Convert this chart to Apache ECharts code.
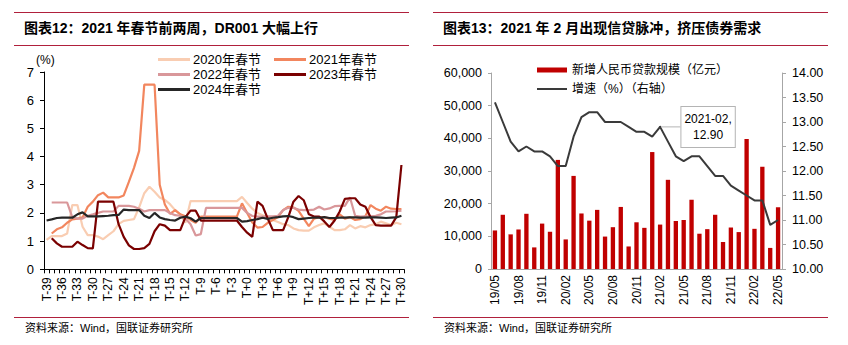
<!DOCTYPE html>
<html>
<head>
<meta charset="utf-8">
<script src="https://cdn.jsdelivr.net/npm/echarts@6/dist/echarts.min.js"></script>
<style>
html,body{margin:0;padding:0;background:#fff;}
#c{width:848px;height:345px;}
</style>
</head>
<body>
<div id="c"></div>
<script>
// ---------- Left panel: DR001 around Spring Festival ----------
const tLabels = ['T-39','T-38','T-37','T-36','T-35','T-34','T-33','T-32','T-31','T-30',
'T-29','T-28','T-27','T-26','T-25','T-24','T-23','T-22','T-21','T-20',
'T-19','T-18','T-17','T-16','T-15','T-14','T-13','T-12','T-11','T-10',
'T-9','T-8','T-7','T-6','T-5','T-4','T-3','T-2','T-1','T+0',
'T+1','T+2','T+3','T+4','T+5','T+6','T+7','T+8','T+9','T+10',
'T+11','T+12','T+13','T+14','T+15','T+16','T+17','T+18','T+19','T+20',
'T+21','T+22','T+23','T+24','T+25','T+26','T+27','T+28','T+29','T+30'];

const y2020 = [1.04,1.18,1.18,1.18,1.27,2.28,2.28,1.51,1.21,1.21,
1.16,1.07,1.21,1.35,1.6,1.72,1.75,1.78,2.2,2.7,
2.93,2.75,2.55,2.46,2.31,2.1,1.95,1.65,2.42,2.42,
2.42,2.42,2.42,2.42,2.42,2.42,2.42,2.42,2.57,2.35,
2.15,2.0,1.92,1.84,1.75,1.68,1.6,1.57,1.45,1.39,
1.37,1.37,1.49,1.57,1.63,1.51,1.39,1.39,1.42,1.57,
1.45,1.53,1.49,1.57,1.6,1.69,1.63,1.57,1.65,1.6];

const y2021 = [null,1.27,1.42,1.49,1.65,1.77,1.8,1.84,2.22,2.4,
2.63,2.72,2.55,2.55,2.55,2.62,3.1,3.6,4.2,6.55,
6.55,6.55,3.0,2.3,1.97,2.1,1.95,1.88,1.75,1.65,
1.87,1.87,1.87,1.87,1.87,1.87,1.87,1.87,2.34,2.0,
1.66,1.48,1.5,1.65,1.75,1.85,2.1,2.22,2.2,2.07,
1.8,1.53,1.8,1.85,1.85,1.8,1.75,1.95,1.8,1.85,
1.75,1.78,1.88,2.28,2.15,2.08,2.22,2.15,2.14,2.14];

const y2022 = [null,2.37,2.37,2.37,2.37,1.85,1.8,1.8,1.9,1.95,
2.0,2.05,2.05,2.05,2.25,2.25,2.25,2.22,2.15,2.05,
2.1,2.1,2.1,2.1,2.0,1.92,1.9,1.8,1.6,1.2,
1.25,2.18,2.18,2.18,2.18,2.18,2.18,2.18,2.18,2.0,
1.89,1.87,1.87,1.88,1.88,1.9,2.1,2.18,2.18,2.12,
2.1,2.1,2.12,2.22,2.12,2.16,2.24,2.25,2.25,2.55,
1.9,1.87,1.88,1.88,1.9,1.95,2.05,2.05,2.06,2.08];

const y2023 = [null,1.1,0.92,0.8,0.8,0.8,0.98,0.86,0.75,0.74,
2.4,2.4,2.4,2.4,1.6,1.15,0.85,0.72,0.72,0.75,
0.9,1.35,1.6,1.55,1.39,1.39,1.39,1.85,2.08,2.08,
1.73,1.73,1.73,1.73,1.73,1.73,1.73,1.73,1.5,1.3,
1.15,2.4,2.25,1.8,1.39,1.39,1.39,1.85,2.4,2.6,
2.45,1.95,1.87,1.87,1.7,1.5,1.73,2.05,2.5,2.52,
2.52,2.3,2.22,1.85,1.57,1.55,1.55,1.55,1.85,3.7];

const y2024 = [1.73,1.77,1.82,1.83,1.83,1.83,1.95,2.02,1.88,1.88,
1.88,1.89,1.9,1.92,1.93,2.12,2.1,2.1,2.1,1.9,
1.82,2.0,1.84,1.78,1.75,1.73,1.83,1.87,1.81,1.69,
1.82,1.82,1.82,1.82,1.82,1.82,1.82,1.82,1.69,1.71,
1.75,1.78,1.83,1.79,1.83,1.85,1.88,1.89,1.85,1.78,
1.8,1.82,1.83,1.83,1.85,1.82,1.82,1.83,1.83,1.84,
1.84,1.83,1.83,1.84,1.84,1.83,1.82,1.83,1.84,1.9];

const leftSeriesNames = ['2020年春节','2021年春节','2022年春节','2023年春节','2024年春节'];
const leftSeriesColors = ['#F9CDB2','#F2865E','#D9979A','#7A0000','#262626'];
const leftYTicks = [0,1,2,3,4,5,6,7];

// ---------- Right panel: new RMB loans & growth ----------
const months = ['19/05','19/06','19/07','19/08','19/09','19/10','19/11','19/12',
'20/01','20/02','20/03','20/04','20/05','20/06','20/07','20/08','20/09','20/10','20/11','20/12',
'21/01','21/02','21/03','21/04','21/05','21/06','21/07','21/08','21/09','21/10','21/11','21/12',
'22/01','22/02','22/03','22/04','22/05'];
const newLoans = [11800,16600,10600,12100,16900,6613,13900,11400,
33400,9057,28500,17000,14800,18100,9927,12800,19000,6898,14300,12600,
35800,13600,27300,14700,15000,21200,10800,12200,16600,8262,12700,11300,
39800,12300,31300,6454,18900];
const loanGrowth = [13.4,13.0,12.6,12.4,12.5,12.4,12.4,12.3,
12.1,12.1,12.7,13.1,13.2,13.2,13.0,13.0,13.0,12.9,12.8,12.8,
12.7,12.9,12.6,12.3,12.2,12.3,12.3,12.1,11.9,11.9,11.7,11.6,
11.5,11.4,11.4,10.9,11.0];
const annotatedMonth = '21/02';

const FONT = "'Liberation Sans','Noto Sans CJK SC',sans-serif";
const RED_RULE = '#B0203C';
const LINE_ICON = 'path://M0,0 L30,0 L30,2 L0,2 Z';
const LINE_COLOR = '#3a3a3a';

const annIdx = months.indexOf(annotatedMonth);
const growthData = loanGrowth.map((v, i) => i === annIdx ? {
  value: v,
  symbol: 'circle',
  symbolSize: 2,
  label: {
    show: true,
    position: 'right',
    distance: 5,
    formatter: '20' + months[i].replace('/', '-') + ',\n' + v.toFixed(2),
    backgroundColor: '#fff',
    borderColor: '#b4b4b4',
    borderWidth: 1,
    padding: [4, 3],
    fontSize: 12,
    lineHeight: 16,
    align: 'center',
    color: '#000',
    fontFamily: FONT
  },
  labelLine: { show: true, lineStyle: { color: '#b4b4b4', width: 1 } }
} : { value: v, symbol: 'none' });

const leftSeries = leftSeriesNames.map((n, k) => ({
  name: n,
  type: 'line',
  xAxisIndex: 0,
  yAxisIndex: 0,
  data: [y2020, y2021, y2022, y2023, y2024][k],
  symbol: 'none',
  connectNulls: false,
  lineStyle: { width: 2.2, color: leftSeriesColors[k] },
  itemStyle: { color: leftSeriesColors[k] },
  z: 2 + k
}));

const chart = echarts.init(document.getElementById('c'), null, { renderer: 'svg' });

const option = {
  animation: false,
  backgroundColor: '#fff',
  textStyle: { fontFamily: FONT, color: '#000' },
  title: [
    { text: '图表12：2021 年春节前两周，DR001 大幅上行', left: 24, top: 21, padding: 0,
      textStyle: { fontSize: 14, fontWeight: 'bold', color: '#000', fontFamily: FONT } },
    { text: '图表13：2021 年 2 月出现信贷脉冲，挤压债券需求', left: 443, top: 21, padding: 0,
      textStyle: { fontSize: 14, fontWeight: 'bold', color: '#000', fontFamily: FONT } },
    { text: '资料来源：Wind，国联证券研究所', left: 25, top: 322, padding: 0,
      textStyle: { fontSize: 11, fontWeight: 'normal', color: '#000', fontFamily: FONT } },
    { text: '资料来源：Wind，国联证券研究所', left: 444, top: 322, padding: 0,
      textStyle: { fontSize: 11, fontWeight: 'normal', color: '#000', fontFamily: FONT } }
  ],
  graphic: [
    { type: 'line', shape: { x1: 14, y1: 12.5, x2: 409, y2: 12.5 }, style: { stroke: RED_RULE, lineWidth: 1 } },
    { type: 'line', shape: { x1: 14, y1: 45.5, x2: 409, y2: 45.5 }, style: { stroke: RED_RULE, lineWidth: 1 } },
    { type: 'line', shape: { x1: 14, y1: 317.5, x2: 409, y2: 317.5 }, style: { stroke: RED_RULE, lineWidth: 1 } },
    { type: 'line', shape: { x1: 433, y1: 12.5, x2: 828, y2: 12.5 }, style: { stroke: RED_RULE, lineWidth: 1 } },
    { type: 'line', shape: { x1: 433, y1: 45.5, x2: 828, y2: 45.5 }, style: { stroke: RED_RULE, lineWidth: 1 } },
    { type: 'line', shape: { x1: 433, y1: 317.5, x2: 828, y2: 317.5 }, style: { stroke: RED_RULE, lineWidth: 1 } }
  ],
  legend: [
    { orient: 'vertical', left: 158, top: 52, padding: 0, itemGap: 0, itemWidth: 32, itemHeight: 3,
      icon: 'rect',
      data: [leftSeriesNames[0], leftSeriesNames[2], leftSeriesNames[4]],
      textStyle: { fontSize: 13, lineHeight: 15, color: '#000', fontFamily: FONT, padding: [0,0,0,-2] } },
    { orient: 'vertical', left: 274, top: 52, padding: 0, itemGap: 0, itemWidth: 32, itemHeight: 3,
      icon: 'rect',
      data: [leftSeriesNames[1], leftSeriesNames[3]],
      textStyle: { fontSize: 13, lineHeight: 15, color: '#000', fontFamily: FONT, padding: [0,0,0,-2] } },
    { orient: 'vertical', left: 537, top: 63, padding: 0, itemGap: 5, itemWidth: 30, itemHeight: 5,
      data: [{ name: '新增人民币贷款规模（亿元）', icon: 'rect' }, { name: '增速（%）（右轴）', icon: LINE_ICON }],
      textStyle: { fontSize: 12, lineHeight: 14, color: '#000', fontFamily: FONT } }
  ],
  grid: [
    { left: 44, top: 72, width: 360, height: 197.3 },
    { left: 491, top: 73, width: 291, height: 196 }
  ],
  xAxis: [
    { type: 'category', gridIndex: 0, data: tLabels, boundaryGap: true,
      axisLine: { lineStyle: { color: '#000', width: 1 } },
      axisTick: { show: true, interval: 0, length: 4, lineStyle: { color: '#000' } },
      axisLabel: { interval: 2, rotate: 90, fontSize: 12, margin: 8, color: '#000', fontFamily: FONT },
      splitLine: { show: false } },
    { type: 'category', gridIndex: 1, data: months, boundaryGap: true,
      axisLine: { lineStyle: { color: '#a6a6a6', width: 1 } },
      axisTick: { show: false },
      axisLabel: { interval: 2, rotate: 90, fontSize: 12, margin: 6, color: '#000', fontFamily: FONT },
      splitLine: { show: false } }
  ],
  yAxis: [
    { type: 'value', gridIndex: 0, min: leftYTicks[0], max: leftYTicks[leftYTicks.length - 1], interval: 1,
      name: '(%)', nameLocation: 'end', nameGap: 1,
      nameTextStyle: { fontSize: 12, color: '#000', fontFamily: FONT, align: 'left', padding: [0, 0, 0, -8] },
      axisLine: { show: true, lineStyle: { color: '#000', width: 1 } },
      axisTick: { show: true, length: 4, lineStyle: { color: '#000' } },
      axisLabel: { fontSize: 13, margin: 10, color: '#000', fontFamily: FONT },
      splitLine: { show: false } },
    { type: 'value', gridIndex: 1, min: 0, max: 60000, interval: 10000, position: 'left',
      axisLine: { show: true, lineStyle: { color: '#a6a6a6', width: 1 } },
      axisTick: { show: true, length: 3, lineStyle: { color: '#a6a6a6' } },
      axisLabel: { fontSize: 12.5, margin: 9, color: '#000', fontFamily: FONT,
        formatter: v => v.toLocaleString('en-US') },
      splitLine: { show: false } },
    { type: 'value', gridIndex: 1, min: 10, max: 14, interval: 0.5, position: 'right',
      axisLine: { show: true, lineStyle: { color: '#a6a6a6', width: 1 } },
      axisTick: { show: true, length: 4, lineStyle: { color: '#a6a6a6' } },
      axisLabel: { fontSize: 12.5, margin: 10, color: '#000', fontFamily: FONT,
        formatter: v => v.toFixed(2) },
      splitLine: { show: false } }
  ],
  series: leftSeries.concat([
    { name: '新增人民币贷款规模（亿元）', type: 'bar', xAxisIndex: 1, yAxisIndex: 1,
      data: newLoans, barWidth: '55%', itemStyle: { color: '#C00000' } },
    { name: '增速（%）（右轴）', type: 'line', xAxisIndex: 1, yAxisIndex: 2,
      data: growthData, symbol: 'none', showSymbol: true,
      lineStyle: { width: 2, color: LINE_COLOR }, itemStyle: { color: LINE_COLOR },
      labelLine: { show: true, lineStyle: { color: '#b4b4b4', width: 1 } },
      labelLayout: function (p) { return p.dataIndex === annIdx ? { dx: 42, dy: 0 } : {}; },
      z: 5 }
  ])
};
chart.setOption(option);
</script>
</body>
</html>
